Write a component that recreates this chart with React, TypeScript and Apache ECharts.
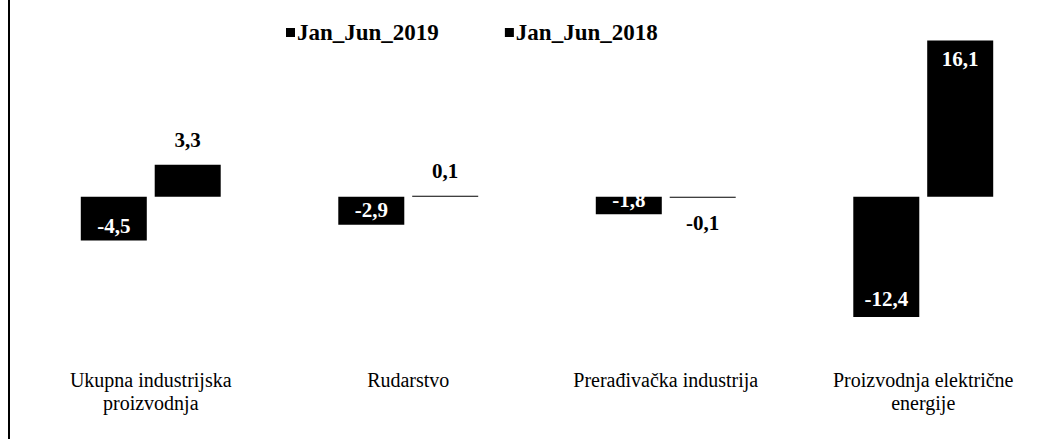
import React, { useEffect, useRef } from "react";
import * as echarts from "echarts";

const categories = [
  "Ukupna industrijska\nproizvodnja",
  "Rudarstvo",
  "Prerađivačka industrija",
  "Proizvodnja električne\nenergije",
];
const series2019 = [-4.5, -2.9, -1.8, -12.4];
const series2018 = [3.3, 0.1, -0.1, 16.1];
const seriesNames = ["Jan_Jun_2019", "Jan_Jun_2018"];

const fmt = (v: number) => String(v).replace(".", ",");
const FONT = "Liberation Serif";

export default function App() {
  const ref = useRef<HTMLDivElement>(null);
  useEffect(() => {
    document.body.style.margin = "0";
    const chart = echarts.init(ref.current!, null, { renderer: "svg" });
    const data2019 = series2019.map((v) => ({
      value: v,
      label: {
        show: true,
        position: "insideBottom",
        distance: v < -10 ? 8 : 4,
        color: "#fff",
      },
    }));
    const data2018 = series2018.map((v) => ({
      value: v,
      label: {
        show: true,
        position: v > 10 ? "insideTop" : v < 0 ? "bottom" : "top",
        distance: v > 10 ? 8 : v < 0 ? 15 : 14,
        color: v > 10 ? "#fff" : "#000",
      },
    }));
    chart.setOption({
      animation: false,
      backgroundColor: "#fff",
      textStyle: { fontFamily: FONT },
      legend: {
        data: seriesNames,
        left: 281,
        top: 16,
        itemWidth: 9,
        itemHeight: 9,
        itemGap: 66,
        icon: "rect",
        textStyle: {
          fontFamily: FONT,
          fontSize: 23,
          fontWeight: "bold",
          color: "#000",
          padding: [0, 0, 0, -3],
        },
      },
      grid: { left: 22, width: 1037, top: 22, bottom: 87 },
      xAxis: {
        type: "category",
        data: categories,
        axisLine: { show: false },
        axisTick: { show: false },
        axisLabel: {
          interval: 0,
          margin: 16,
          fontFamily: FONT,
          fontSize: 20,
          lineHeight: 23,
          color: "#000",
        },
      },
      yAxis: {
        type: "value",
        min: -16,
        max: 18,
        show: false,
        splitLine: { show: false },
      },
      graphic: [
        {
          type: "line",
          shape: { x1: 9, y1: 0, x2: 9, y2: 439 },
          style: { stroke: "#000", lineWidth: 2 },
        },
      ],
      series: [
        {
          name: seriesNames[0],
          type: "bar",
          data: data2019,
          barWidth: 66,
          barGap: "12%",
          itemStyle: { color: "#000" },
          label: {
            show: true,
            formatter: (p: any) => fmt(p.value),
            fontFamily: FONT,
            fontSize: 21,
            fontWeight: "bold",
          },
        },
        {
          name: seriesNames[1],
          type: "bar",
          data: data2018,
          barWidth: 66,
          barGap: "12%",
          itemStyle: { color: "#000" },
          label: {
            show: true,
            formatter: (p: any) => fmt(p.value),
            fontFamily: FONT,
            fontSize: 21,
            fontWeight: "bold",
          },
        },
      ],
    });
    return () => chart.dispose();
  }, []);
  return <div ref={ref} style={{ width: 1052, height: 439 }} />;
}
